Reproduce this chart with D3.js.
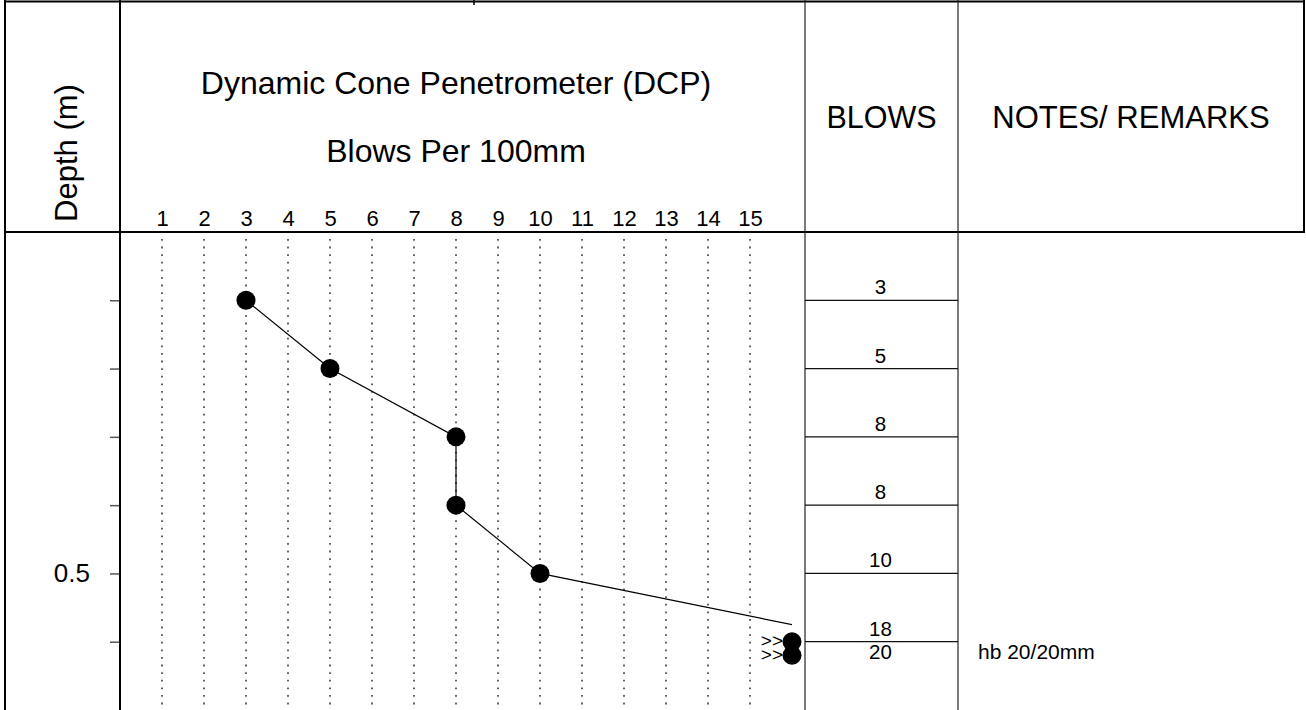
<!DOCTYPE html>
<html>
<head>
<meta charset="utf-8">
<script src="https://cdn.jsdelivr.net/npm/d3@7"></script>
<style>
  html, body { margin: 0; padding: 0; background: #fff; }
  svg { display: block; font-family: "Liberation Sans", Arial, sans-serif; }
</style>
</head>
<body>
<svg id="chart" width="1306" height="710"></svg>
<script>
// ---- data ----
const depths = [0.1, 0.2, 0.3, 0.4, 0.5, 0.6, 0.62];   // depth (m) of each reading
const blows = [3, 5, 8, 8, 10, 18, 20];                 // blows per 100mm
const blowTicks = [1, 2, 3, 4, 5, 6, 7, 8, 9, 10, 11, 12, 13, 14, 15];
const depthTicks = [0.1, 0.2, 0.3, 0.4, 0.5, 0.6];
const depthLabels = ["", "", "", "", "0.5", ""];
const rowDepths = [0.1, 0.2, 0.3, 0.4, 0.5, 0.6];        // separators in BLOWS column
const notes = [{ depth: 0.62, text: "hb 20/20mm" }];
const titleLines = ["Dynamic Cone Penetrometer (DCP)", "Blows Per 100mm"];
const xMaxPlot = 16;

const svg = d3.select("#chart");
const W = 1306, H = 710;
const colX0 = 5, colDepth = 120, colBlows = 805, colNotes = 958, colRight = 1304;
const headerY = 232;
const font = "Liberation Sans, Arial, sans-serif";

const x = d3.scaleLinear().domain([0, 16]).range([colDepth, 792]);
const y = d3.scaleLinear().domain([0, 0.7]).range([headerY, 710]);

// dotted grid
svg.append("g").selectAll("line").data(blowTicks).join("line")
  .attr("x1", d => x(d)).attr("x2", d => x(d))
  .attr("y1", headerY + 7).attr("y2", H)
  .attr("stroke", "#222").attr("stroke-width", 1.4)
  .attr("stroke-dasharray", "1.8,5.8");

// x tick labels (top axis in header)
const xAxis = svg.append("g").attr("transform", `translate(0,${headerY})`)
  .call(d3.axisTop(x).tickValues(blowTicks).tickSize(0).tickPadding(6).tickFormat(d3.format("d")));
xAxis.select(".domain").remove();
xAxis.selectAll("text").attr("font-size", 22).attr("font-family", font).attr("fill", "#000");

// y axis
const yAxis = svg.append("g").attr("transform", `translate(${colDepth},0)`)
  .call(d3.axisLeft(y).tickValues(depthTicks).tickSize(10).tickPadding(20)
    .tickFormat((d, i) => depthLabels[i]));
yAxis.select(".domain").remove();
yAxis.selectAll(".tick line").attr("stroke", "#555").attr("stroke-width", 1.5);
yAxis.selectAll("text").attr("font-size", 26).attr("font-family", font).attr("fill", "#000");

// frame
const frame = svg.append("g").attr("stroke", "#000");
frame.append("line").attr("x1", colX0 - 1).attr("x2", colRight + 1).attr("y1", 1.5).attr("y2", 1.5).attr("stroke-width", 2.2);
frame.append("line").attr("x1", colX0 - 1).attr("x2", colRight + 1).attr("y1", headerY).attr("y2", headerY).attr("stroke-width", 2.2);
frame.append("line").attr("x1", colX0).attr("x2", colX0).attr("y1", 0).attr("y2", H).attr("stroke-width", 2);
frame.append("line").attr("x1", colDepth).attr("x2", colDepth).attr("y1", 0).attr("y2", H).attr("stroke-width", 2);
frame.append("line").attr("x1", colRight).attr("x2", colRight).attr("y1", 0).attr("y2", headerY).attr("stroke-width", 2);
frame.append("line").attr("x1", colBlows).attr("x2", colBlows).attr("y1", 0).attr("y2", H).attr("stroke-width", 1.2).attr("stroke", "#222");
frame.append("line").attr("x1", colNotes).attr("x2", colNotes).attr("y1", 0).attr("y2", H).attr("stroke-width", 1.2).attr("stroke", "#222");
frame.append("line").attr("x1", 474).attr("x2", 474).attr("y1", 0).attr("y2", 5).attr("stroke-width", 1.5);

// header texts
svg.append("text").attr("transform", "translate(77,153) rotate(-90)")
  .attr("text-anchor", "middle").attr("font-size", 31).attr("font-family", font).text("Depth (m)");
svg.append("g").selectAll("text").data(titleLines).join("text")
  .attr("x", 456).attr("y", (d, i) => i === 0 ? 94 : 162)
  .attr("text-anchor", "middle").attr("font-size", 32).attr("font-family", font).text(d => d);
svg.append("text").attr("x", (colBlows + colNotes) / 2).attr("y", 128)
  .attr("text-anchor", "middle").attr("font-size", 30.5).attr("font-family", font).text("BLOWS");
svg.append("text").attr("x", (colNotes + colRight) / 2).attr("y", 128)
  .attr("text-anchor", "middle").attr("font-size", 31).attr("font-family", font).text("NOTES/ REMARKS");

// blows column rows
svg.append("g").selectAll("line").data(rowDepths).join("line")
  .attr("x1", colBlows).attr("x2", colNotes)
  .attr("y1", d => y(d)).attr("y2", d => y(d))
  .attr("stroke", "#111").attr("stroke-width", 1.2);
svg.append("g").selectAll("text").data(blows).join("text")
  .attr("x", (colBlows + colNotes) / 2 - 1)
  .attr("y", (d, i) => i === blows.length - 1 ? y(depths[i]) + 4 : y(depths[i]) - 6)
  .attr("text-anchor", "middle").attr("font-size", 20.5).attr("font-family", font).text(d => d);

// notes
svg.append("g").selectAll("text").data(notes).join("text")
  .attr("x", 978).attr("y", d => y(d.depth) + 4)
  .attr("font-size", 21).attr("font-family", font).text(d => d.text);

// line (clipped at plot max)
svg.append("clipPath").attr("id", "plotclip").append("rect")
  .attr("x", x(0)).attr("y", headerY).attr("width", x(xMaxPlot) - x(0)).attr("height", H - headerY);
const pts = blows.map((b, i) => [b, depths[i]]);
svg.append("path").datum(pts)
  .attr("clip-path", "url(#plotclip)")
  .attr("fill", "none").attr("stroke", "#000").attr("stroke-width", 1.2)
  .attr("d", d3.line().x(d => x(d[0])).y(d => y(d[1])));

// points (clamped)
svg.append("g").selectAll("circle").data(pts).join("circle")
  .attr("cx", d => x(Math.min(d[0], xMaxPlot))).attr("cy", d => y(d[1]))
  .attr("r", 9.5).attr("fill", "#000");

// off-scale markers (one text block, one line per off-scale reading)
const off = pts.filter(d => d[0] > xMaxPlot);
svg.append("text").attr("text-anchor", "end").attr("font-size", 19).attr("font-family", font)
  .selectAll("tspan").data(off).join("tspan")
  .attr("x", x(xMaxPlot) - 9).attr("y", d => y(d[1]) + 5.5).text(">>");
</script>
</body>
</html>
